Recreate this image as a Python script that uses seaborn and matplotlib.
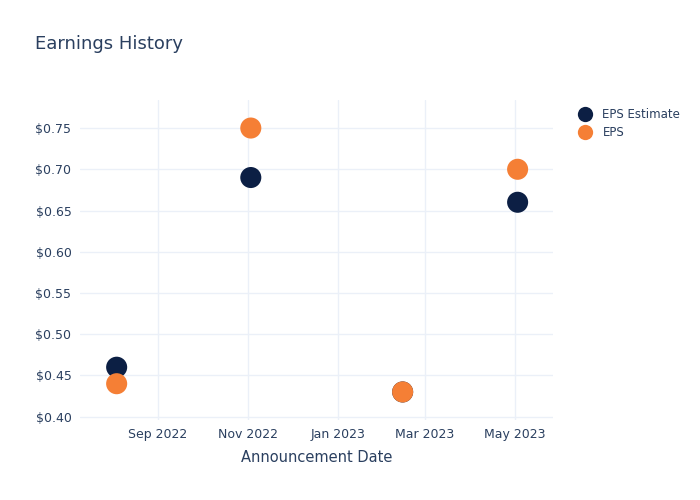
import matplotlib
matplotlib.use("Agg")
import matplotlib.pyplot as plt
import matplotlib.dates as mdates
import seaborn as sns
import pandas as pd
import numpy as np

dates = ["2022-08-04", "2022-11-03", "2023-02-14", "2023-05-03"]
eps_estimate = [0.46, 0.69, 0.43, 0.66]
eps_actual = [0.44, 0.75, 0.43, 0.70]
series_names = ["EPS Estimate", "EPS"]
colors = ["#0c1f44", "#f57f35"]

df = pd.DataFrame({
    "date": pd.to_datetime(dates * 2),
    "value": eps_estimate + eps_actual,
    "series": [series_names[0]] * len(dates) + [series_names[1]] * len(dates),
})

sns.set_style("white")
plt.rcParams["font.family"] = ["DejaVu Sans"]
text_color = "#2a3f5f"

fig = plt.figure(figsize=(7, 5), dpi=100)
ax = fig.add_axes([0.114, 0.16, 0.676, 0.64])

sns.scatterplot(data=df, x="date", y="value", hue="series", hue_order=series_names,
                palette=colors, s=230, edgecolor="none", ax=ax, legend=False, zorder=3)

ax.set_xlim(pd.Timestamp("2022-07-10"), pd.Timestamp("2023-05-27"))
ax.set_ylim(0.396, 0.784)
ax.xaxis.set_major_locator(mdates.MonthLocator(bymonth=[1, 3, 5, 7, 9, 11]))
ax.xaxis.set_major_formatter(mdates.DateFormatter("%b %Y"))
ax.set_yticks(np.arange(0.40, 0.751, 0.05))
ax.set_yticklabels([f"${v:.2f}" for v in np.arange(0.40, 0.751, 0.05)])
ax.grid(True, color="#ebf0f8", linewidth=1)
ax.set_axisbelow(True)
for s in ax.spines.values():
    s.set_visible(False)
ax.tick_params(axis="both", length=0, labelsize=9, colors=text_color, pad=6)
ax.set_xlabel("Announcement Date", fontsize=10.5, color=text_color, labelpad=6)
ax.set_ylabel("")

fig.text(0.05, 0.912, "Earnings History", fontsize=13, color=text_color, va="center")

handles = [plt.Line2D([], [], marker="o", linestyle="", markersize=11,
                      markerfacecolor=c, markeredgecolor="none") for c in colors]
fig.legend(handles, series_names, loc="upper left", bbox_to_anchor=(0.81, 0.805),
           frameon=False, fontsize=8.5, labelcolor=text_color, handletextpad=0.9,
           labelspacing=0.45, handlelength=1.2)

fig.savefig("out.png", dpi=100)
